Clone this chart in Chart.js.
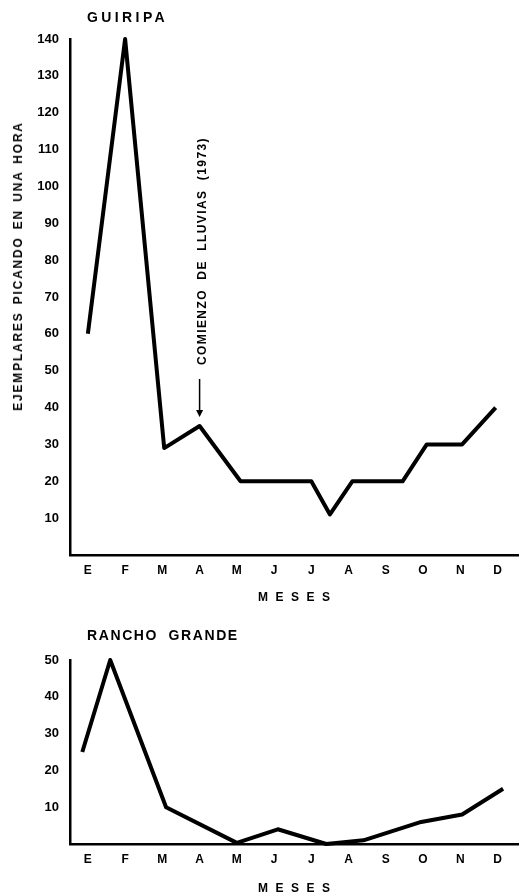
<!DOCTYPE html>
<html>
<head>
<meta charset="utf-8">
<script src="https://cdn.jsdelivr.net/npm/chart.js@4.4.0/dist/chart.umd.min.js"></script>
<style>
    body { margin: 0; background: #fff; width: 526px; height: 896px; position: relative; overflow: hidden;
           font-family: "Liberation Sans", Arial, sans-serif; font-weight: bold; color: #000; }
    .t { position: absolute; white-space: nowrap; line-height: 1; }
    canvas { position: absolute; left: 0; }
</style>
</head>
<body>
<canvas id="guiripa" width="526" height="610" style="top:0"></canvas>
<canvas id="rancho" width="526" height="286" style="top:610px"></canvas>

<div class="t" style="left:87px; top:10px; font-size:14px; letter-spacing:3.4px;">GUIRIPA</div>
<div class="t" style="left:18px; top:266px; font-size:12px; letter-spacing:1.8px; word-spacing:2px; transform:translate(-50%,-50%) rotate(-90deg);">EJEMPLARES PICANDO EN UNA HORA</div>
<div class="t" style="left:258px; top:591px; font-size:12px; letter-spacing:7.5px;">MESES</div>
<div class="t" style="left:87px; top:628px; font-size:14px; letter-spacing:1.6px; word-spacing:5px;">RANCHO GRANDE</div>
<div class="t" style="left:258px; top:882px; font-size:12px; letter-spacing:7.5px;">MESES</div>

<script>
// meses (eje x) — posiciones de los vértices, en unidades de mes
const MONTHS = ["E", "F", "M", "A", "M", "J", "J", "A", "S", "O", "N", "D"];

const GUIRIPA_X = [0, 1, 2.05, 3, 4.1, 6, 6.5, 7.1, 8.45, 9.1, 10.05, 10.95];
const GUIRIPA_Y = [60, 140, 29, 35, 20, 20, 11, 20, 20, 30, 30, 40];
const GUIRIPA_TICKS = [10, 20, 30, 40, 50, 60, 70, 80, 90, 100, 110, 120, 130, 140];

const RANCHO_X = [-0.15, 0.6, 2.1, 4, 5.1, 6.4, 7.4, 8.95, 10.05, 11.15];
const RANCHO_Y = [25, 50, 10, 0.3, 4, 0, 1, 6, 8, 15];
const RANCHO_TICKS = [10, 20, 30, 40, 50];

const RAIN_LABEL = "COMIENZO  DE  LLUVIAS  (1973)";
const RAIN_INDEX = 3;

const FONT = { family: '"Liberation Sans", Arial, sans-serif', weight: "bold", size: 13 };

// flecha + texto vertical sobre el punto de abril
const rainNote = {
    id: "rainNote",
    afterDatasetsDraw(chart) {
        const { ctx, scales: { x, y } } = chart;
        const px = x.getPixelForValue(GUIRIPA_X[RAIN_INDEX]);
        const py = y.getPixelForValue(GUIRIPA_Y[RAIN_INDEX]);
        ctx.save();
        ctx.strokeStyle = "#000";
        ctx.fillStyle = "#000";
        ctx.lineWidth = 1.5;
        ctx.beginPath();
        ctx.moveTo(px, py - 47);
        ctx.lineTo(px, py - 12);
        ctx.stroke();
        ctx.beginPath();
        ctx.moveTo(px - 3.5, py - 16);
        ctx.lineTo(px, py - 9);
        ctx.lineTo(px + 3.5, py - 16);
        ctx.closePath();
        ctx.fill();

        ctx.translate(px + 3, py - 61);
        ctx.rotate(-Math.PI / 2);
        ctx.font = 'bold 12px "Liberation Sans", Arial, sans-serif';
        if ("letterSpacing" in ctx) ctx.letterSpacing = "1.4px";
        ctx.textAlign = "left";
        ctx.textBaseline = "middle";
        ctx.fillText(RAIN_LABEL, 0, 0);
        ctx.restore();
    }
};

function makeChart(id, xs, ys, yMax, yTicks, topPad, bottomPad, extraPlugins) {
    return new Chart(document.getElementById(id), {
        type: "line",
        data: {
            datasets: [{
                data: xs.map((v, i) => ({ x: v, y: ys[i] })),
                borderColor: "#000",
                borderWidth: 4,
                pointRadius: 0,
                tension: 0,
                clip: false,
                borderJoinStyle: "round",
                borderCapStyle: "butt"
            }]
        },
        options: {
            responsive: false,
            animation: false,
            events: [],
            layout: { padding: { top: topPad, right: 8, bottom: bottomPad, left: 0 } },
            plugins: { legend: { display: false }, tooltip: { enabled: false } },
            scales: {
                x: {
                    type: "linear",
                    min: -0.48,
                    max: 11.55,
                    grid: { display: false, drawTicks: false },
                    border: { display: true, color: "#000", width: 2.5 },
                    afterBuildTicks: s => { s.ticks = MONTHS.map((m, i) => ({ value: i })); },
                    afterFit: s => { s.height = 30; },
                    ticks: { color: "#000", font: { ...FONT, size: 12 }, padding: 8, maxRotation: 0, autoSkip: false,
                             callback: v => MONTHS[v] }
                },
                y: {
                    min: 0,
                    max: yMax,
                    grid: { display: false, drawTicks: false },
                    border: { display: true, color: "#000", width: 2.5 },
                    afterBuildTicks: s => { s.ticks = yTicks.map(v => ({ value: v })); },
                    afterFit: s => { s.width = 70; },
                    ticks: { color: "#000", font: FONT, padding: 11 }
                }
            }
        },
        plugins: extraPlugins
    });
}

makeChart("guiripa", GUIRIPA_X, GUIRIPA_Y, 140, GUIRIPA_TICKS, 39, 25, [rainNote]);
makeChart("rancho", RANCHO_X, RANCHO_Y, 50, RANCHO_TICKS, 50, 22, []);
</script>
</body>
</html>
